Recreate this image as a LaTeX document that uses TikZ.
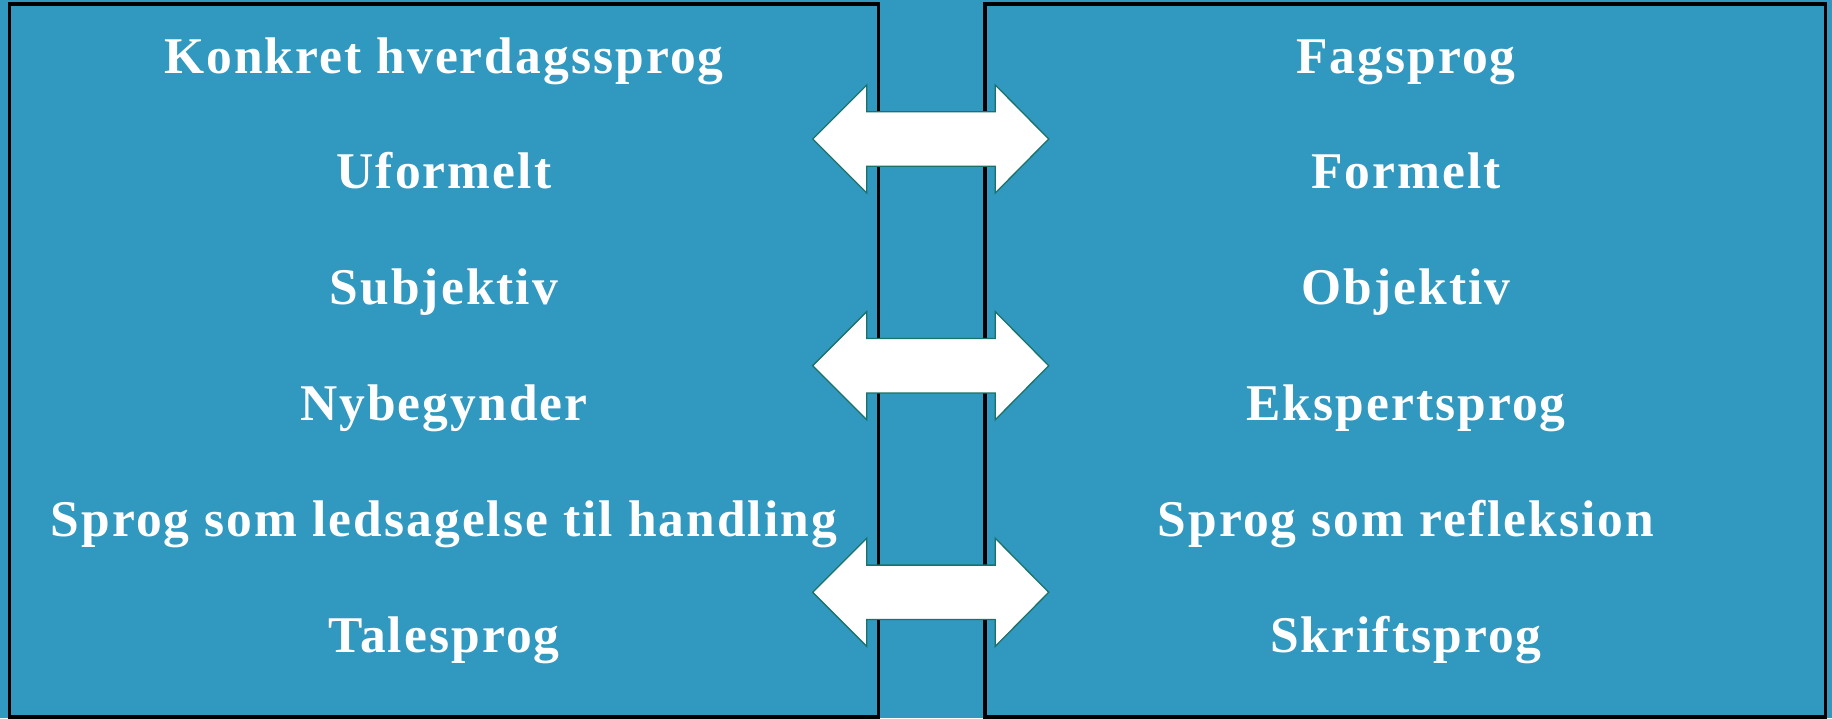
\documentclass[tikz,border=0pt]{standalone}
\usepackage{fontspec}
\setmainfont{Liberation Serif}
\newfontfamily\lblfont[LetterSpace=4]{Liberation Serif}
\definecolor{bg}{RGB}{49,152,191}
\definecolor{arrowline}{RGB}{25,115,105}
\begin{document}
\begin{tikzpicture}[x=1pt,y=-1pt,
  panel/.style={draw=black,line width=3.4pt,fill=bg},
  lbl/.style={text=white,font=\lblfont\fontsize{51.5}{55}\selectfont\bfseries,anchor=base,inner sep=0pt},
  dblarrow/.style={fill=white,draw=arrowline,line width=1.3pt,line join=miter}]
\fill[bg] (0,0) rectangle (1832,718);
\useasboundingbox (0,0) rectangle (1832,718);
\draw[panel] (9.5,4) rectangle (878.5,717);
\draw[panel] (985,4) rectangle (1825.5,717);
\foreach \c [count=\i] in {139,365.7,592.3}{
  \draw[dblarrow] (812.7,\c) -- (866.7,\c-54) -- (866.7,\c-27.2) -- (995.3,\c-27.2) -- (995.3,\c-54)
    -- (1048.7,\c) -- (995.3,\c+54) -- (995.3,\c+27.2) -- (866.7,\c+27.2) -- (866.7,\c+54) -- cycle;
}
\node[lbl] (l1) at (444,73) {Konkret hverdagssprog};
\node[lbl] (l2) at (444,188.8) {Uformelt};
\node[lbl] (l3) at (444,304.6) {Subjektiv};
\node[lbl] (l4) at (444,420.4) {Nybegynder};
\node[lbl] (l5) at (444,536.2) {Sprog som ledsagelse til handling};
\node[lbl] (l6) at (444,652) {Talesprog};
\node[lbl] (r1) at (1406,73) {Fagsprog};
\node[lbl] (r2) at (1406,188.8) {Formelt};
\node[lbl] (r3) at (1406,304.6) {Objektiv};
\node[lbl] (r4) at (1406,420.4) {Ekspertsprog};
\node[lbl] (r5) at (1406,536.2) {Sprog som refleksion};
\node[lbl] (r6) at (1406,652) {Skriftsprog};
\end{tikzpicture}
\end{document}
